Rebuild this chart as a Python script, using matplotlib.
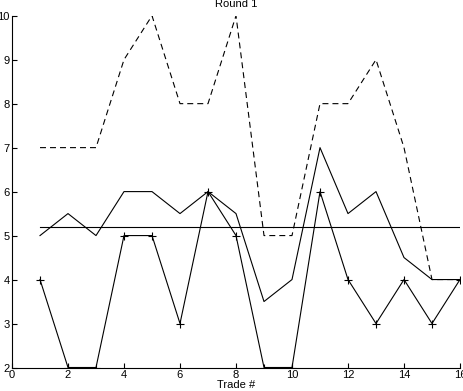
import numpy as np
import matplotlib
matplotlib.use("Agg")
import matplotlib.pyplot as plt

# trade numbers
trades = np.arange(1, 17)
# dashed line (upper values)
upper = [7, 7, 7, 9, 10, 8, 8, 10, 5, 5, 8, 8, 9, 7, 4, 4]
# solid line without markers
middle = [5, 5.5, 5, 6, 6, 5.5, 6, 5.5, 3.5, 4, 7, 5.5, 6, 4.5, 4, 4]
# solid line with plus markers
prices = [4, 2, 2, 5, 5, 3, 6, 5, 2, 2, 6, 4, 3, 4, 3, 4]
# horizontal reference level
level = 5.19

plt.rcParams['font.family'] = ['Liberation Sans', 'DejaVu Sans']
plt.rcParams['lines.scale_dashes'] = False

fig = plt.figure(figsize=(4.64, 3.91), dpi=100)
ax = fig.add_axes([12 / 464, 1 - 367.5 / 391, 448 / 464, 351.8 / 391])

lw = 0.8
ax.plot(trades, upper, color='black', lw=lw, dashes=(4.3, 2.9))
ax.plot(trades, middle, color='black', lw=lw)
ax.plot([trades[0], trades[-1]], [level, level], color='black', lw=lw)
ax.plot(trades, prices, color='black', lw=lw, marker='+', markersize=6,
        markeredgewidth=lw, clip_on=True)

ax.set_xlim(0, 16)
ax.set_ylim(2, 10)
ax.set_xticks(np.arange(0, 17, 2))
ax.set_yticks(np.arange(2, 11, 1))

for side in ['top', 'right']:
    ax.spines[side].set_visible(False)
for side in ['left', 'bottom']:
    ax.spines[side].set_linewidth(lw)

ax.tick_params(direction='in', length=3.5, width=lw, labelsize=8, pad=1.5)

ax.set_title('Round 1', fontsize=8, pad=6)
ax.set_xlabel('Trade #', fontsize=8, labelpad=0)

fig.savefig('out.png', dpi=100)
